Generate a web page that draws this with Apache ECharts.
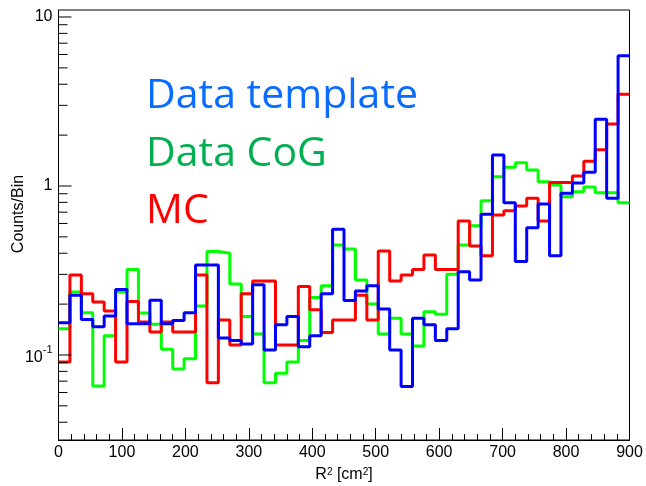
<!DOCTYPE html>
<html>
<head>
<meta charset="utf-8">
<script src="https://cdn.jsdelivr.net/npm/echarts@6/dist/echarts.min.js"></script>
<style>
  html, body { margin: 0; padding: 0; background: #fff; }
  #chart { width: 646px; height: 486px; }
</style>
</head>
<body>
<div id="chart"></div>
<script>
// Histogram binning: 50 bins of R^2 from 0 to 900 cm^2
const binWidth = 18;
const xMin = 0;
const xMax = 900;

// Axis tick labels / tick positions
const xTickLabels = [0, 100, 200, 300, 400, 500, 600, 700, 800, 900];
const yMajorTicks = [0.1, 1, 10];
const yMinorTicks = [0.04, 0.05, 0.06, 0.07, 0.08, 0.09,
                     0.2, 0.3, 0.4, 0.5, 0.6, 0.7, 0.8, 0.9,
                     2, 3, 4, 5, 6, 7, 8, 9];

// Counts per bin
const dataTemplate = [
  0.155, 0.226, 0.162, 0.147, 0.170, 0.244, 0.153, 0.153, 0.211, 0.153,
  0.160, 0.178, 0.341, 0.341, 0.126, 0.122, 0.116, 0.260, 0.107, 0.151,
  0.169, 0.112, 0.130, 0.230, 0.554, 0.210, 0.239, 0.257, 0.187, 0.107,
  0.065, 0.165, 0.151, 0.122, 0.143, 0.311, 0.278, 0.680, 1.525, 0.796,
  0.357, 0.567, 0.782, 0.387, 0.905, 1.040, 1.205, 2.480, 0.846, 5.900
];
const dataCoG = [
  0.143, 0.236, 0.178, 0.0655, 0.130, 0.236, 0.320, 0.177, 0.152, 0.108,
  0.0825, 0.095, 0.195, 0.409, 0.400, 0.263, 0.169, 0.133, 0.0686, 0.078,
  0.091, 0.122, 0.219, 0.257, 0.448, 0.424, 0.278, 0.200, 0.133, 0.165,
  0.133, 0.113, 0.180, 0.174, 0.300, 0.448, 0.582, 0.819, 1.135, 1.290,
  1.374, 1.244, 1.060, 1.014, 0.865, 0.925, 0.985, 0.913, 0.913, 0.796
];
const mc = [
  0.091, 0.297, 0.230, 0.206, 0.182, 0.091, 0.207, 0.157, 0.137, 0.157,
  0.137, 0.137, 0.297, 0.0686, 0.161, 0.1146, 0.230, 0.274, 0.274, 0.1146,
  0.1146, 0.254, 0.185, 0.136, 0.161, 0.161, 0.226, 0.161, 0.412, 0.274,
  0.297, 0.321, 0.391, 0.321, 0.321, 0.621, 0.441, 0.387, 0.674, 0.714,
  0.762, 0.846, 0.621, 1.050, 1.050, 1.146, 1.400, 1.640, 2.330, 3.490
];

const seriesNames = ['Data template', 'Data CoG', 'MC'];
const xTitle = 'R{s|2} [cm{s|2}]';
const yTitle = 'Counts/Bin';

// Turn per-bin contents into the outline points of a step histogram
function stepPoints(values) {
  const pts = values.map((v, i) => [xMin + i * binWidth, v]);
  pts.push([xMin + values.length * binWidth, values[values.length - 1]]);
  return pts;
}

const axisFont = 'Liberation Sans, Arial, Helvetica, sans-serif';
const legendFont = 'Open Sans, sans-serif';

function isDecade(v) {
  const l = Math.log10(v);
  return Math.abs(l - Math.round(l)) < 1e-6;
}
function yLabel(v) {
  if (!isDecade(v)) return '';
  const e = Math.round(Math.log10(v));
  if (e === 0) return '1';
  if (e === 1) return '10';
  return '{b|10}{s|' + e + '}';
}

function histSeries(name, values, color, z) {
  return {
    name: name,
    type: 'line',
    step: 'end',
    data: stepPoints(values),
    symbol: 'none',
    showSymbol: false,
    lineStyle: { color: color, width: 3 },
    itemStyle: { color: color },
    z: z,
    animation: false
  };
}

function tickSeries(values, len) {
  return {
    type: 'custom',
    silent: true,
    z: 10,
    animation: false,
    clip: false,
    data: values.map(v => [xMin, v]),
    renderItem: function (params, api) {
      const p = api.coord([api.value(0), api.value(1)]);
      return {
        type: 'line',
        shape: { x1: p[0], y1: p[1], x2: p[0] + len, y2: p[1] },
        style: { stroke: '#000', lineWidth: 1 }
      };
    }
  };
}

const chart = echarts.init(document.getElementById('chart'), null, { renderer: 'canvas' });

chart.setOption({
  animation: false,
  backgroundColor: '#fff',
  grid: {
    left: 58.5, right: 16.5, top: 10, bottom: 46,
    containLabel: false,
    outerBoundsMode: 'none',
    show: true, borderColor: '#000', borderWidth: 1, backgroundColor: 'transparent'
  },
  legend: {
    orient: 'vertical',
    left: 136,
    top: 71,
    icon: 'none',
    itemWidth: 0,
    itemHeight: 0,
    itemGap: 16.5,
    selectedMode: false,
    textStyle: { fontFamily: legendFont, fontSize: 41, lineHeight: 41, padding: 0 },
    data: [
      { name: seriesNames[0], textStyle: { color: '#0a6cff' } },
      { name: seriesNames[1], textStyle: { color: '#00b050' } },
      { name: seriesNames[2], textStyle: { color: '#ff0000' } }
    ]
  },
  xAxis: {
    type: 'value',
    min: xMin,
    max: xMax,
    interval: 100,
    name: xTitle,
    nameLocation: 'middle',
    nameGap: 27,
    nameMoveOverlap: false,
    nameTextStyle: {
      color: '#000', fontFamily: axisFont, fontSize: 16,
      rich: { s: { fontSize: 10, verticalAlign: 'top', fontFamily: axisFont, color: '#000', padding: [0, 0, 6, 0] } }
    },
    axisLine: { show: true, onZero: false, lineStyle: { color: '#000', width: 1 } },
    axisTick: { show: true, inside: true, length: 12, lineStyle: { color: '#000' } },
    minorTick: { show: true, splitNumber: 5, length: 6, lineStyle: { color: '#000' } },
    splitLine: { show: false },
    axisLabel: {
      color: '#000', fontFamily: axisFont, fontSize: 16, margin: 5,
      formatter: v => (xTickLabels.indexOf(v) >= 0 ? String(v) : '')
    }
  },
  yAxis: {
    type: 'log',
    logBase: 10,
    min: 0.0314,
    max: 11,
    name: yTitle,
    nameLocation: 'middle',
    nameGap: 32,
    nameMoveOverlap: false,
    nameRotate: 90,
    nameTextStyle: { color: '#000', fontFamily: axisFont, fontSize: 16, padding: [0, 0, 0, 22] },
    axisLine: { show: true, onZero: false, lineStyle: { color: '#000', width: 1 } },
    axisTick: { show: false },
    splitLine: { show: false },
    axisLabel: {
      color: '#000', fontFamily: axisFont, fontSize: 16, margin: 6,
      showMinLabel: false, showMaxLabel: false,
      formatter: yLabel,
      rich: {
        b: { fontFamily: axisFont, fontSize: 16, color: '#000', lineHeight: 22, verticalAlign: 'bottom' },
        s: { fontFamily: axisFont, fontSize: 11, color: '#000', lineHeight: 22, verticalAlign: 'top' }
      }
    }
  },
  series: [
    histSeries(seriesNames[1], dataCoG, '#00ff00', 2),
    histSeries(seriesNames[2], mc, '#ff0000', 3),
    histSeries(seriesNames[0], dataTemplate, '#0000ff', 4),
    tickSeries(yMajorTicks, 13),
    tickSeries(yMinorTicks, 9)
  ]
});
</script>
</body>
</html>
